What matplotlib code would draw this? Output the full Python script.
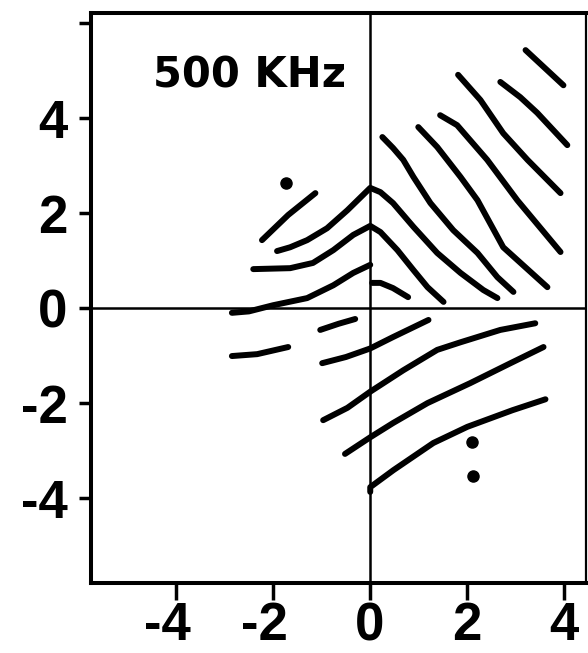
import matplotlib.pyplot as plt
import matplotlib.transforms as mtransforms

# contour traces, (x, y) pairs in axis units
upper_right = [
    [(3.20, 5.43), (3.98, 4.69)],
    [(2.68, 4.76), (3.09, 4.44), (3.44, 4.11), (4.06, 3.43)],
    [(1.81, 4.91), (2.27, 4.38), (2.74, 3.68), (3.24, 3.12), (3.92, 2.42)],
    [(1.44, 4.06), (1.79, 3.85), (2.41, 3.12), (3.03, 2.27), (3.92, 1.18)],
    [(0.99, 3.81), (1.38, 3.39), (1.86, 2.76), (2.21, 2.27), (2.74, 1.28), (3.65, 0.44)],
    [(0.25, 3.60), (0.47, 3.37), (0.68, 3.12), (0.89, 2.76), (1.24, 2.21),
     (1.71, 1.64), (2.21, 1.16), (2.62, 0.65), (2.95, 0.34)],
    [(0.04, 0.53), (0.21, 0.53), (0.47, 0.42), (0.78, 0.23)],
]

# the two peaked curves crossing x = 0
peaked = [
    [(-1.92, 1.20), (-1.65, 1.28), (-1.30, 1.43), (-0.89, 1.68), (-0.47, 2.06),
     (0.0, 2.53), (0.21, 2.44), (0.47, 2.21), (0.89, 1.71), (1.38, 1.16),
     (1.86, 0.74), (2.33, 0.38), (2.62, 0.21)],
    [(-2.41, 0.82), (-1.65, 0.84), (-1.18, 0.95), (-0.76, 1.22), (-0.35, 1.54),
     (0.0, 1.73), (0.21, 1.60), (0.56, 1.22), (0.89, 0.80), (1.18, 0.44), (1.51, 0.13)],
]

upper_left = [
    [(-2.23, 1.43), (-1.69, 1.96), (-1.13, 2.42)],
    [(-2.85, -0.10), (-2.50, -0.07), (-2.00, 0.06), (-1.30, 0.21), (-0.76, 0.48),
     (-0.35, 0.74), (0.0, 0.91)],
]

lower_left = [
    [(-1.03, -0.46), (-0.65, -0.33), (-0.31, -0.23)],
    [(-2.85, -1.01), (-2.33, -0.97), (-1.69, -0.82)],
]

lower_right = [
    [(-0.99, -1.16), (-0.50, -1.03), (0.0, -0.85), (0.47, -0.61), (1.20, -0.25)],
    [(-0.97, -2.36), (-0.47, -2.10), (0.0, -1.76), (0.68, -1.31), (1.38, -0.88),
     (1.86, -0.72), (2.68, -0.46), (3.40, -0.32)],
    [(-0.52, -3.07), (0.0, -2.72), (0.47, -2.42), (1.18, -2.00), (2.06, -1.58),
     (2.89, -1.16), (3.57, -0.82)],
    [(0.0, -3.87), (0.0, -3.77), (0.48, -3.41), (1.30, -2.84), (2.00, -2.50),
     (2.93, -2.15), (3.61, -1.92)],
]

dots_x = [-1.73, 2.10, 2.12]
dots_y = [2.63, -2.82, -3.54]

tick_vals = [-4, -2, 0, 2, 4]
tick_text = ["-4", "-2", "0", "2", "4"]
freq_label = "500 KHz"

plt.rcParams["font.family"] = ["Liberation Sans", "DejaVu Sans"]
plt.rcParams["font.weight"] = "bold"

fig = plt.figure(figsize=(5.88, 6.53), dpi=100)
ax = fig.add_axes([0.155, 0.107, 0.842, 0.873])

ax.axhline(0, color="black", lw=1.8, zorder=1)
ax.axvline(0, color="black", lw=1.8, zorder=1)

for curve in upper_right + peaked + upper_left + lower_left + lower_right:
    xs = [p[0] for p in curve]
    ys = [p[1] for p in curve]
    ax.plot(xs, ys, color="black", lw=4.3, solid_capstyle="round",
            solid_joinstyle="round", zorder=3)

ax.plot(dots_x, dots_y, "o", color="black", ms=8, zorder=3)

ax.text(-4.47, 4.65, freq_label, fontsize=30, fontweight="bold",
        family="DejaVu Sans", va="baseline")

ax.set_xlim(-5.75, 4.45)
ax.set_ylim(-5.79, 6.21)

for side in ["left", "top", "bottom"]:
    ax.spines[side].set_linewidth(2.9)
ax.spines["right"].set_linewidth(1.6)

ax.set_xticks(tick_vals)
ax.set_xticklabels(tick_text)
ax.set_yticks(tick_vals + [6])
ax.set_yticklabels(tick_text + [""])
ax.tick_params(axis="x", length=12, width=2.5, pad=1, labelsize=38)
ax.tick_params(axis="y", length=9, width=2.5, pad=8, labelsize=38)

# keep the digit centred on the tick, the minus hangs to the left
shift = mtransforms.ScaledTranslation(0.145, 0, fig.dpi_scale_trans)
for lbl in ax.get_xticklabels():
    lbl.set_horizontalalignment("right")
    lbl.set_transform(lbl.get_transform() + shift)

fig.savefig("out.png", dpi=100)
